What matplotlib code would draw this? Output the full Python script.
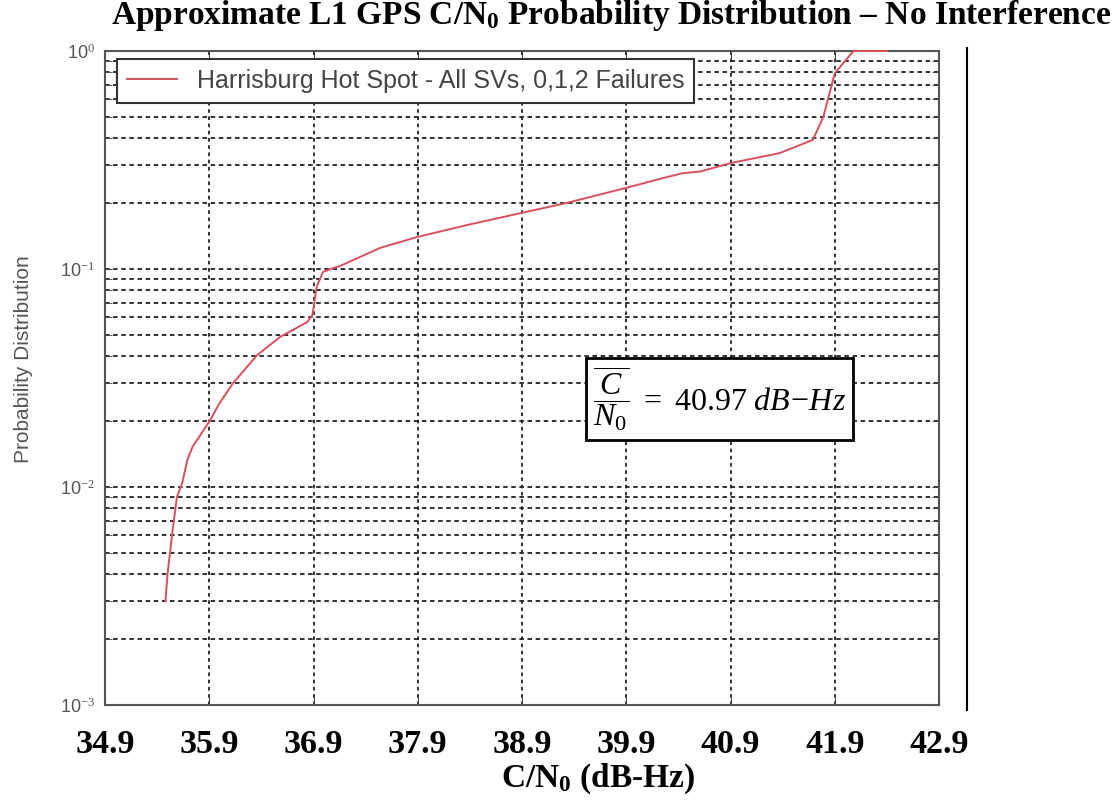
import matplotlib
matplotlib.use("Agg")
import matplotlib.pyplot as plt
from matplotlib.lines import Line2D
from matplotlib.ticker import LogLocator, NullFormatter

plt.rcParams['mathtext.fontset'] = 'custom'
plt.rcParams['mathtext.rm'] = 'Liberation Serif'
plt.rcParams['mathtext.it'] = 'Liberation Serif:italic'
plt.rcParams['mathtext.bf'] = 'Liberation Serif:bold'

# C/N0 (dB-Hz) vs cumulative probability
cn0 = [35.48, 35.50, 35.55, 35.59, 35.64, 35.69, 35.74, 35.91, 36.00, 36.13,
       36.36, 36.58, 36.84, 36.89, 36.93, 36.99, 37.09, 37.15, 37.54, 37.89,
       38.37, 38.90, 39.33, 39.89, 40.29, 40.44, 40.61, 40.90, 41.37, 41.69,
       41.79, 41.85, 41.90, 42.08, 42.40]
prob = [0.0030, 0.0040, 0.0064, 0.0090, 0.0104, 0.0133, 0.0153, 0.0203, 0.0243, 0.0300,
        0.0403, 0.0488, 0.0571, 0.0615, 0.0827, 0.0969, 0.101, 0.103, 0.125, 0.140,
        0.159, 0.181, 0.201, 0.235, 0.264, 0.275, 0.280, 0.306, 0.340, 0.391,
        0.498, 0.641, 0.790, 1.0, 1.0]

xticks = [34.9, 35.9, 36.9, 37.9, 38.9, 39.9, 40.9, 41.9, 42.9]
yticks = [1e-3, 1e-2, 1e-1, 1e0]
ylabels = ['10$^{-3}$', '10$^{-2}$', '10$^{-1}$', '10$^{0}$']
mean_cn0 = 40.97

fig = plt.figure(figsize=(11.2, 8), dpi=100)
ax = fig.add_axes([105 / 1120, 1 - 705 / 800, 834 / 1120, 654 / 800])

ax.semilogy(cn0, prob, color='#d8505f', lw=1.4, clip_on=False, zorder=5,
            label='Harrisburg Hot Spot - All SVs, 0,1,2 Failures')
ax.set_xlim(34.9, 42.9)
ax.set_ylim(1e-3, 1)

ax.set_xticks(xticks)
ax.set_xticklabels([f'{t:.1f}' for t in xticks], family='Liberation Serif',
                   fontweight='bold', fontsize=24.5)
ax.set_yticks(yticks)
ax.set_yticklabels(ylabels, family='Liberation Sans', fontsize=13, color='#555555')
ax.yaxis.set_minor_locator(LogLocator(base=10, subs=range(2, 10)))
ax.yaxis.set_minor_formatter(NullFormatter())
ax.tick_params(axis='x', which='both', direction='in', top=True, length=6,
               pad=17, color='#444444')
ax.tick_params(axis='y', which='both', direction='in', right=True, length=5,
               pad=7, color='#444444')

ax.grid(True, axis='x', which='major', color='#222222', lw=1.3, ls=(0, (2, 2)))
ax.grid(True, axis='y', which='both', color='#222222', lw=1.3, ls=(0, (2.5, 2)))
for sp in ax.spines.values():
    sp.set_color('#555555')
    sp.set_linewidth(1.5)

leg = ax.legend(loc='upper left', bbox_to_anchor=(0.014, 0.988),
                prop={'family': 'Liberation Sans', 'size': 18},
                frameon=True, fancybox=False, framealpha=1,
                edgecolor='#333333', handlelength=2.0, handletextpad=0.8,
                borderpad=0.4, borderaxespad=0)
leg.get_frame().set_linewidth(1.5)
leg.set_zorder(6)
for t in leg.get_texts():
    t.set_color('#444444')

ax.text(0.737, 0.468,
        r'$\dfrac{\overline{\;C\;}}{N_{0}}\ =\ %.2f\ dB\!-\!Hz$' % mean_cn0,
        transform=ax.transAxes, fontsize=23, ha='center', va='center', zorder=7,
        bbox=dict(boxstyle='square,pad=0.22', fc='white', ec='black', lw=2))

fig.text(611 / 1120, 1 - 24 / 800,
         r'Approximate L1 GPS C/N$_\mathbf{0}$ Probability Distribution – No Interference',
         ha='center', va='baseline', family='Liberation Serif',
         fontweight='bold', fontsize=24)
fig.text(598 / 1120, 13 / 800, r'C/N$_\mathbf{0}$ (dB-Hz)', ha='center', va='baseline',
         family='Liberation Serif', fontweight='bold', fontsize=24)
fig.text(24 / 1120, 1 - 359 / 800, 'Probability Distribution', rotation=90,
         ha='center', va='center', family='Liberation Sans', fontsize=15,
         color='#555555')

fig.add_artist(Line2D([967 / 1120, 967 / 1120], [1 - 710 / 800, 1 - 48 / 800],
                      transform=fig.transFigure, color='black', lw=1.5))

fig.savefig('out.png', dpi=100)
